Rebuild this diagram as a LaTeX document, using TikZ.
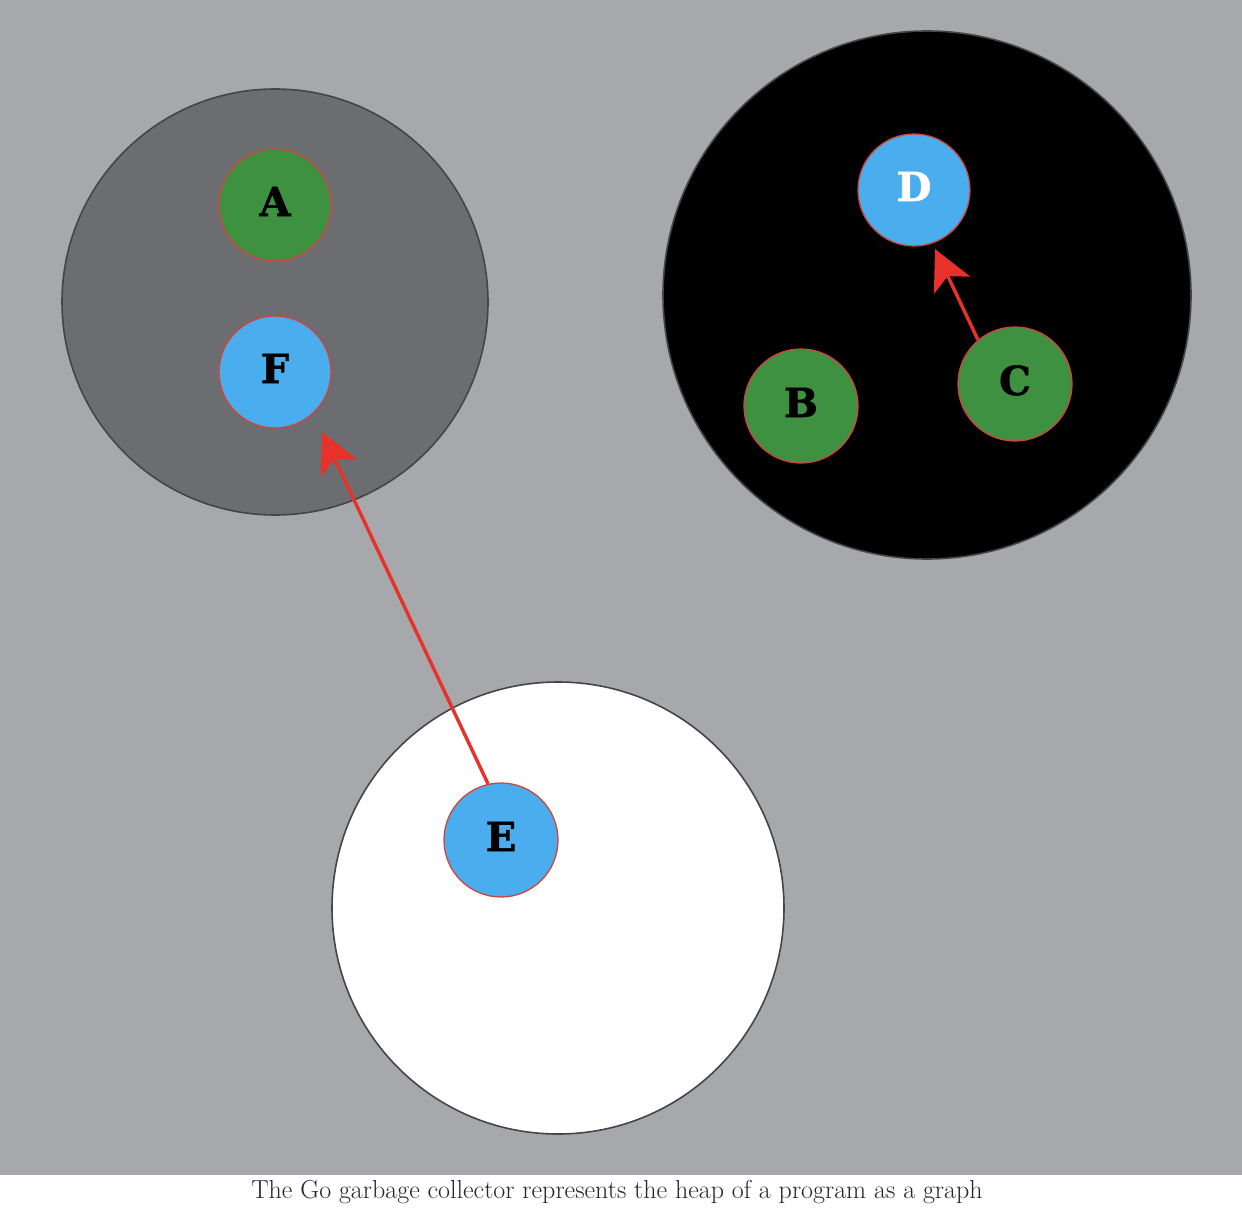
\documentclass[tikz,border=0pt]{standalone}
\usepackage{fontspec}
\usetikzlibrary{arrows.meta}
\newfontfamily\letterfont[BoldFeatures={FakeBold=1.5}]{DejaVu Serif}
\definecolor{bgc}{HTML}{A7A8AC}
\definecolor{greyset}{HTML}{6C6D71}
\definecolor{ringline}{HTML}{454547}
\definecolor{objgreen}{HTML}{3F9142}
\definecolor{objblue}{HTML}{4AADEE}
\definecolor{objline}{HTML}{D0443C}
\definecolor{arrowred}{HTML}{E8312A}
\begin{document}
\begin{tikzpicture}[x=1pt,y=-1pt,
  setcircle/.style={circle, draw=ringline, line width=1.6pt, inner sep=0pt},
  obj/.style={circle, draw=objline, line width=1.3pt, minimum size=112pt, inner sep=0pt,
    text height=29pt, text depth=7pt,
    font=\fontsize{40}{40}\selectfont\letterfont\bfseries},
  greenobj/.style={obj, fill=objgreen},
  blueobj/.style={obj, fill=objblue},
  ptr/.style={draw=arrowred, line width=3.4pt, -{Stealth[length=40pt, width=40pt, inset=10pt]}},
  caption/.style={font=\fontsize{26}{26}\selectfont, text=black!85}]
\useasboundingbox (0,0) rectangle (1242,1220);
\fill[white] (0,0) rectangle (1242,1220);
\fill[bgc] (0,0) rectangle (1242,1175);
% sets
\node[setcircle, fill=greyset, minimum size=426pt] (grayset) at (275,302) {};
\node[setcircle, fill=black, minimum size=528pt] (blackset) at (927,295) {};
\node[setcircle, fill=white, minimum size=452pt] (whiteset) at (558,908) {};
% objects
\node[greenobj] (A) at (275,205) {A};
\node[blueobj] (F) at (275,372) {F};
\node[blueobj, text=white] (D) at (914,190) {D};
\node[greenobj, minimum size=114pt] (B) at (801,406) {B};
\node[greenobj, minimum size=114pt] (C) at (1015,384) {C};
\node[blueobj, minimum size=114pt] (E) at (501,840) {E};
% pointer targets
\coordinate (Ftip) at (322,432);
\coordinate (Dtip) at (935,249);
% pointers
\draw[ptr] (E.103) -- (Ftip);
\draw[ptr] (C.130) -- (Dtip);
% caption
\node[caption] (cap) at (617,1192) {The Go garbage collector represents the heap of a program as a graph};
\end{tikzpicture}
\end{document}
